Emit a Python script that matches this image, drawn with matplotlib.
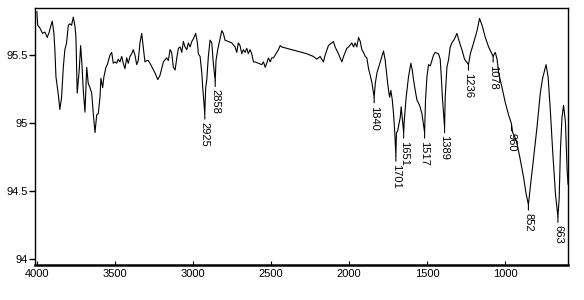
import numpy as np
import matplotlib
matplotlib.use('Agg')
import matplotlib.pyplot as plt

# IR spectrum: wavenumber (cm-1) and transmittance
wavenumber = [
    4000, 3995, 3981, 3964, 3949, 3934, 3921, 3912, 3902, 3891, 3885, 3878, 3863, 3853, 3842,
    3831, 3821, 3810, 3799, 3788, 3778, 3767, 3756, 3750, 3746, 3742, 3729, 3720, 3712, 3703,
    3692, 3681, 3671, 3660, 3649, 3639, 3628, 3617, 3607, 3596, 3590, 3579, 3571, 3558, 3549,
    3532, 3521, 3511, 3500, 3489, 3479, 3468, 3457, 3447, 3436, 3425, 3415, 3404, 3393, 3383,
    3372, 3361, 3351, 3340, 3329, 3319, 3308, 3297, 3287, 3276, 3258, 3244, 3226, 3212, 3201,
    3190, 3169, 3158, 3147, 3137, 3126, 3115, 3104, 3094, 3083, 3072, 3062, 3051, 3040, 3030,
    3019, 3008, 2998, 2983, 2972, 2966, 2955, 2944, 2938, 2925, 2919, 2912, 2902, 2891, 2880,
    2870, 2858, 2853, 2842, 2827, 2816, 2806, 2795, 2774, 2752, 2731, 2720, 2710, 2699, 2688,
    2678, 2667, 2656, 2646, 2635, 2624, 2613, 2603, 2581, 2560, 2549, 2538, 2528, 2517, 2506,
    2496, 2485, 2474, 2453, 2442, 2432, 2271, 2229, 2207, 2186, 2165, 2154, 2133, 2111, 2101,
    2090, 2069, 2047, 2036, 2015, 2004, 1983, 1972, 1962, 1951, 1940, 1929, 1919, 1908, 1897,
    1887, 1876, 1865, 1855, 1840, 1833, 1822, 1801, 1790, 1780, 1769, 1758, 1748, 1741, 1733,
    1724, 1716, 1708, 1701, 1697, 1690, 1673, 1667, 1660, 1651, 1647, 1635, 1620, 1605, 1596,
    1588, 1577, 1566, 1549, 1534, 1517, 1511, 1502, 1492, 1481, 1470, 1460, 1449, 1428, 1417,
    1410, 1402, 1389, 1385, 1374, 1363, 1353, 1342, 1325, 1310, 1295, 1278, 1261, 1236, 1224,
    1203, 1181, 1165, 1149, 1128, 1107, 1078, 1070, 1064, 1053, 1043, 1021, 1000, 979, 962,
    953, 940, 925, 904, 883, 867, 852, 840, 820, 797, 776, 761, 748, 739, 726,
    712, 697, 679, 663, 655, 647, 637, 627, 615, 604, 598,
]
transmittance = [
    95.82, 95.72, 95.70, 95.66, 95.67, 95.63, 95.67, 95.71, 95.75, 95.66, 95.54, 95.34, 95.21, 95.10, 95.19,
    95.41, 95.54, 95.59, 95.72, 95.73, 95.72, 95.78, 95.71, 95.63, 95.41, 95.22, 95.39, 95.57, 95.44, 95.24,
    95.08, 95.41, 95.29, 95.26, 95.22, 95.07, 94.93, 95.06, 95.07, 95.19, 95.33, 95.26, 95.34, 95.41, 95.43,
    95.50, 95.52, 95.44, 95.45, 95.44, 95.47, 95.45, 95.49, 95.44, 95.40, 95.48, 95.44, 95.49, 95.51, 95.54,
    95.50, 95.43, 95.46, 95.59, 95.66, 95.56, 95.45, 95.46, 95.46, 95.44, 95.40, 95.37, 95.32, 95.35, 95.40,
    95.45, 95.48, 95.46, 95.54, 95.52, 95.41, 95.39, 95.48, 95.55, 95.56, 95.52, 95.60, 95.56, 95.54, 95.59,
    95.56, 95.60, 95.62, 95.66, 95.59, 95.51, 95.49, 95.37, 95.26, 95.07, 95.26, 95.32, 95.49, 95.61, 95.59,
    95.44, 95.31, 95.46, 95.54, 95.62, 95.68, 95.66, 95.61, 95.60, 95.59, 95.56, 95.52, 95.59, 95.57, 95.51,
    95.54, 95.52, 95.55, 95.51, 95.54, 95.51, 95.45, 95.45, 95.44, 95.43, 95.45, 95.41, 95.44, 95.48, 95.45,
    95.48, 95.48, 95.50, 95.54, 95.57, 95.56, 95.51, 95.49, 95.47, 95.49, 95.45, 95.50, 95.57, 95.59, 95.60,
    95.56, 95.51, 95.45, 95.49, 95.55, 95.56, 95.59, 95.56, 95.59, 95.56, 95.63, 95.60, 95.54, 95.52, 95.49,
    95.48, 95.40, 95.35, 95.30, 95.19, 95.29, 95.37, 95.45, 95.49, 95.53, 95.46, 95.34, 95.24, 95.19, 95.24,
    95.17, 95.07, 94.93, 94.76, 94.93, 94.94, 95.04, 95.12, 95.04, 94.93, 95.02, 95.19, 95.34, 95.44, 95.39,
    95.32, 95.24, 95.17, 95.13, 95.07, 94.93, 95.17, 95.34, 95.43, 95.42, 95.46, 95.50, 95.52, 95.51, 95.47,
    95.34, 95.17, 94.97, 95.19, 95.41, 95.47, 95.56, 95.59, 95.62, 95.66, 95.60, 95.54, 95.47, 95.43, 95.51,
    95.59, 95.68, 95.77, 95.72, 95.63, 95.56, 95.49, 95.51, 95.52, 95.47, 95.37, 95.26, 95.15, 95.06, 95.00,
    94.93, 94.90, 94.85, 94.73, 94.60, 94.48, 94.40, 94.53, 94.73, 94.97, 95.22, 95.33, 95.39, 95.43, 95.34,
    95.10, 94.80, 94.48, 94.31, 94.45, 94.80, 95.04, 95.13, 95.01, 94.65, 94.55,
]

peak_labels = [2925, 2858, 1840, 1701, 1651, 1517, 1389, 1236, 1078, 960, 852, 663]

x_ticks = [4000, 3500, 3000, 2500, 2000, 1500, 1000]
y_ticks = [94, 94.5, 95, 95.5]
y_tick_labels = ['94', '94.5', '95', '95.5']

plt.rcParams['font.family'] = ['Liberation Sans', 'DejaVu Sans']

fig = plt.figure(figsize=(5.84, 3.0), dpi=100)
ax = fig.add_axes([0.060, 0.117, 0.913, 0.856])

ax.plot(wavenumber, transmittance, color='black', linewidth=0.8)

# peak labels hang below each band with a short leader line
w_sorted = np.array(wavenumber[::-1], dtype=float)
t_sorted = np.array(transmittance[::-1], dtype=float)
for wn in peak_labels:
    y = np.interp(wn, w_sorted, t_sorted)
    ax.annotate(str(wn), xy=(wn, y), xytext=(0, -6), textcoords='offset points',
                rotation=-90, ha='center', va='top', fontsize=8,
                arrowprops=dict(arrowstyle='-', color='black', linewidth=0.8,
                                shrinkA=0, shrinkB=0))

ax.set_xlim(4012, 597)
ax.set_ylim(93.956, 95.846)
ax.set_xticks(x_ticks)
ax.set_xticklabels([str(t) for t in x_ticks])
ax.set_yticks(y_ticks)
ax.set_yticklabels(y_tick_labels)
ax.tick_params(axis='x', direction='in', length=3, width=0.8, labelsize=8, pad=3)
ax.tick_params(axis='y', direction='out', length=4, width=1.0, labelsize=8, pad=1)

for side in ['left', 'top', 'right']:
    ax.spines[side].set_linewidth(1.0)
ax.spines['bottom'].set_linewidth(1.8)

fig.savefig('out.png', dpi=100)
